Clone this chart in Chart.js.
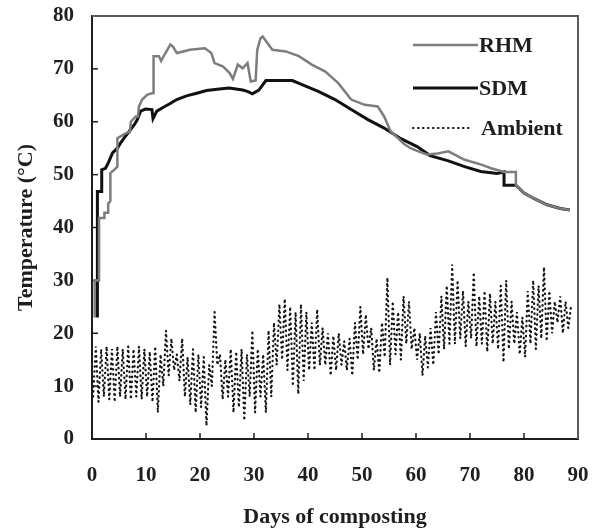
<!DOCTYPE html>
<html>
<head>
<meta charset="utf-8">
<script src="https://cdn.jsdelivr.net/npm/chart.js@4/dist/chart.umd.min.js"></script>
<style>
    html, body { margin: 0; padding: 0; background: #fff; }
    #wrap { width: 595px; height: 528px; }
</style>
</head>
<body>
<div id="wrap"><canvas id="myChart" width="595" height="528"></canvas></div>
<script>
"use strict";
// axis ticks
const xTicks = [0, 10, 20, 30, 40, 50, 60, 70, 80, 90];
const yTicks = [0, 10, 20, 30, 40, 50, 60, 70, 80];

// RHM pile (grey)
const rhmDays = [0.5, 0.5, 1.3, 1.3, 2.3, 2.3, 3.0, 3.0, 3.4, 3.4, 4.2, 4.7, 4.7, 5.7, 6.6, 7.0, 7.2, 8.1, 8.5, 8.7, 9.3, 10.2, 11.1, 11.3, 11.4, 12.4, 12.8, 13.6, 14.5, 15.0, 15.7, 16.9, 18.1, 20.9, 22.1, 22.7, 24.2, 25.5, 26.1, 27.0, 27.9, 28.8, 29.4, 30.3, 30.6, 31.2, 31.6, 33.4, 35.9, 38.3, 40.7, 43.2, 45.6, 48.0, 50.5, 52.9, 54.1, 55.3, 57.8, 59.0, 60.2, 62.0, 64.0, 66.0, 69.0, 72.1, 73.9, 76.3, 78.5, 78.5, 80.0, 82.0, 84.3, 86.7, 88.5];
const rhmTemp = [23, 30, 30, 41.8, 41.8, 42.8, 42.8, 44.5, 45, 50.3, 51, 51.5, 56.9, 57.5, 58, 58, 60, 61, 61, 62.9, 64.2, 65.1, 65.4, 65.4, 72.4, 72.4, 71.5, 73, 74.6, 74.2, 73, 73.3, 73.6, 73.9, 73, 71.1, 70.5, 69.2, 68.1, 70.8, 70.1, 71.1, 67.6, 67.8, 73.6, 75.8, 76.1, 73.6, 73.3, 72.4, 70.8, 69.5, 67.3, 64.2, 63.2, 62.9, 61, 58.2, 55.8, 55, 54.5, 53.8, 54, 54.4, 52.8, 51.9, 51.2, 50.5, 50.5, 48, 46.5, 45.4, 44.3, 43.6, 43.3];

// SDM pile (black)
const sdmDays = [1.0, 1.0, 1.8, 1.8, 2.5, 3.0, 3.8, 4.7, 5.3, 6.0, 6.9, 7.8, 8.4, 9.0, 9.9, 11.1, 11.3, 12.0, 13.3, 14.4, 15.7, 17.5, 19.4, 21.2, 23.6, 25.4, 27.9, 28.9, 29.7, 30.9, 32.2, 37.1, 38.9, 42.0, 45.0, 48.0, 51.1, 54.1, 57.2, 60.2, 62.6, 66.0, 69.0, 72.0, 75.0, 76.3, 76.3, 78.5, 80.0, 82.0, 84.3, 86.7, 88.5];
const sdmTemp = [23, 46.8, 46.8, 50.9, 51.2, 52.2, 54.1, 55, 56, 57, 58.2, 59.4, 60.4, 62, 62.4, 62.3, 60.6, 62, 62.8, 63.4, 64.2, 64.9, 65.4, 65.9, 66.2, 66.4, 66, 65.7, 65.3, 66, 67.8, 67.8, 67, 65.7, 64.2, 62.3, 60.4, 58.8, 56.8, 55.3, 53.6, 52.6, 51.5, 50.6, 50.2, 50.5, 48, 48, 46.5, 45.4, 44.3, 43.6, 43.3];

// ambient air, daily low / high for days 0..88
const ambientLow = [8, 7, 8, 7.5, 7, 8, 7.5, 7.5, 8, 7.5, 8, 7, 5, 10, 12, 13, 11, 8, 6.5, 5, 6, 2.5, 10, 14, 7.5, 8, 5, 6, 3.5, 8, 5, 8, 5, 8, 14, 15, 13, 10, 8.5, 11, 13, 13, 14, 14, 12, 13, 14, 13, 12, 15, 16, 17, 13, 12.5, 15.5, 14, 16, 15, 18, 17, 15, 12, 13.5, 14, 16, 17, 18, 18, 19, 17.5, 19, 17.5, 18, 16.5, 18, 17, 14.5, 17, 18, 16, 15.5, 18, 17, 19, 18.5, 20, 22, 20, 21];
const ambientHigh = [17.5, 17, 17.5, 17, 17.5, 17, 17.5, 17, 17.5, 17, 16.5, 17.5, 16, 20.5, 19, 16, 19, 15.5, 17, 16, 15.5, 14, 24, 16, 15, 17, 16.5, 17, 16, 20.5, 17, 16, 20.5, 22, 25.5, 26.5, 25, 24, 25.5, 24, 22, 24.5, 21, 20, 19.5, 20, 18.5, 19, 22, 25, 23.5, 21, 19, 22, 30.5, 26, 24, 27, 26, 21, 20, 19.5, 21, 24, 27, 29, 33, 30, 28, 26, 31.5, 27, 28, 27.5, 26, 29, 30, 26, 24, 23, 28, 30, 29, 32.5, 28, 26, 27, 26, 25];

const serif = "'Liberation Serif', 'Times New Roman', serif";
const ink = "#1e1e1e";

const toPoints = (xs, ys) => xs.map((x, i) => ({ x: x, y: ys[i] }));

const ambientPoints = [];
ambientLow.forEach((low, day) => {
    ambientPoints.push({ x: day + 0.2, y: low });
    ambientPoints.push({ x: day + 0.7, y: ambientHigh[day] });
});

// short tick marks pointing into the plot, plus the grey top/right frame
const frameTicks = {
    id: "frameTicks",
    beforeDatasetsDraw(chart) {
        const { ctx, chartArea: a, scales } = chart;
        ctx.save();
        ctx.strokeStyle = ink;
        ctx.lineWidth = 1.5;
        xTicks.slice(1, -1).forEach((v) => {
            const px = scales.x.getPixelForValue(v);
            ctx.beginPath();
            ctx.moveTo(px, a.bottom);
            ctx.lineTo(px, a.bottom - 6);
            ctx.stroke();
        });
        yTicks.slice(1, -1).forEach((v) => {
            const py = scales.y.getPixelForValue(v);
            ctx.beginPath();
            ctx.moveTo(a.left, py);
            ctx.lineTo(a.left + 6, py);
            ctx.stroke();
        });
        ctx.strokeStyle = "#5a5a5a";
        ctx.lineWidth = 2;
        ctx.beginPath();
        ctx.moveTo(a.left, a.top);
        ctx.lineTo(a.right, a.top);
        ctx.lineTo(a.right, a.bottom);
        ctx.stroke();
        ctx.restore();
    }
};

// legend sitting inside the plot, top right
const innerLegend = {
    id: "innerLegend",
    afterDatasetsDraw(chart) {
        const { ctx } = chart;
        const rows = [45, 88, 128];
        ctx.save();
        ctx.font = "bold 22px " + serif;
        ctx.textBaseline = "middle";
        ctx.fillStyle = ink;
        chart.data.datasets.forEach((ds, i) => {
            const y = rows[i];
            ctx.strokeStyle = ds.borderColor;
            ctx.lineWidth = ds.borderWidth;
            ctx.lineCap = i === 2 ? "round" : "butt";
            ctx.setLineDash(ds.borderDash || []);
            ctx.beginPath();
            ctx.moveTo(413, y);
            ctx.lineTo(i === 2 ? 471 : 478, y);
            ctx.stroke();
            ctx.setLineDash([]);
            ctx.fillText(ds.label, i === 2 ? 481 : 479, y + 1);
        });
        ctx.restore();
    }
};

// drop the label overhang so the plot box fills the canvas
const noOverhang = (s) => {
    s.paddingLeft = 0;
    s.paddingRight = 0;
    s.paddingTop = 0;
    s.paddingBottom = 0;
};

const chart = new Chart(document.getElementById("myChart"), {
    type: "line",
    data: {
        datasets: [
            {
                label: "RHM",
                data: toPoints(rhmDays, rhmTemp),
                borderColor: "#7d7d7d",
                borderWidth: 2.5,
                pointRadius: 0,
                tension: 0
            },
            {
                label: "SDM",
                data: toPoints(sdmDays, sdmTemp),
                borderColor: "#111",
                borderWidth: 3,
                pointRadius: 0,
                tension: 0
            },
            {
                label: "Ambient",
                data: ambientPoints,
                borderColor: "#151515",
                borderWidth: 2.2,
                borderDash: [0.5, 4.5],
                borderCapStyle: "round",
                pointRadius: 0,
                tension: 0
            }
        ]
    },
    options: {
        responsive: false,
        animation: false,
        layout: { padding: { top: 16, right: 17, bottom: 0, left: 0 } },
        plugins: {
            legend: { display: false },
            tooltip: { enabled: false }
        },
        scales: {
            x: {
                type: "linear",
                min: 0,
                max: 90,
                afterFit: (s) => { s.height = 89; noOverhang(s); },
                afterBuildTicks: (s) => { s.ticks = xTicks.map((v) => ({ value: v })); },
                grid: { display: false, drawTicks: false },
                border: { color: ink, width: 2 },
                ticks: {
                    padding: 24,
                    color: ink,
                    font: { family: serif, size: 21, weight: "bold" }
                },
                title: {
                    display: true,
                    text: "Days of composting",
                    color: ink,
                    padding: { top: 0, bottom: 0 },
                    font: { family: serif, size: 22, weight: "bold", lineHeight: 1 }
                }
            },
            y: {
                min: 0,
                max: 80,
                afterFit: (s) => { s.width = 92; noOverhang(s); },
                afterBuildTicks: (s) => { s.ticks = yTicks.map((v) => ({ value: v })); },
                grid: { display: false, drawTicks: false },
                border: { color: ink, width: 2 },
                ticks: {
                    padding: 18,
                    color: ink,
                    font: { family: serif, size: 21, weight: "bold" }
                },
                title: {
                    display: true,
                    text: "Temperature (°C)",
                    color: ink,
                    padding: { top: 15, bottom: 0 },
                    font: { family: serif, size: 22, weight: "bold", lineHeight: 1 }
                }
            }
        }
    },
    plugins: [frameTicks, innerLegend]
});
</script>
</body>
</html>
